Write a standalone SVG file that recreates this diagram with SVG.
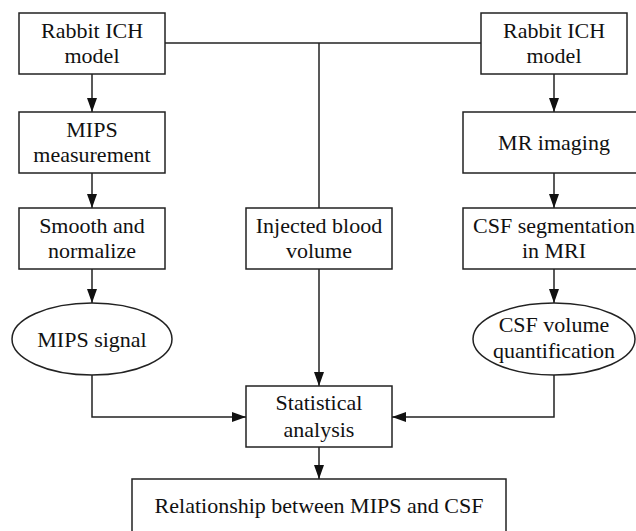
<svg xmlns="http://www.w3.org/2000/svg" width="636" height="531" viewBox="0 0 636 531">
<defs>
<marker id="ah" markerWidth="14" markerHeight="10" refX="14" refY="5" viewBox="0 0 14 10" markerUnits="userSpaceOnUse" orient="auto">
<path d="M0,0 L14,5 L0,10 Z" fill="#111"/>
</marker>
</defs>
<style>
.b{fill:#fff;stroke:#222;stroke-width:1.5}
text{font-family:'Liberation Serif','Times New Roman',Times,serif;font-size:22px;fill:#111;text-anchor:middle}
.c{fill:none;stroke:#222;stroke-width:1.5}
.a{marker-end:url(#ah)}
</style>
<rect width="636" height="531" fill="#fff"/>
<g id="connectors">
<line class="c" x1="165" y1="43" x2="481" y2="43"/>
<line class="c" x1="319" y1="43" x2="319" y2="208"/>
<line class="c a" x1="319" y1="269" x2="319" y2="386"/>
<line class="c a" x1="92" y1="74" x2="92" y2="112"/>
<line class="c a" x1="92" y1="173" x2="92" y2="208"/>
<line class="c a" x1="92" y1="269" x2="92" y2="303"/>
<polyline class="c a" points="92,375 92,417 246,417"/>
<line class="c a" x1="554" y1="74" x2="554" y2="112"/>
<line class="c a" x1="554" y1="173" x2="554" y2="208"/>
<line class="c a" x1="554" y1="269" x2="554" y2="303"/>
<polyline class="c a" points="554,375 554,417 392,417"/>
<line class="c a" x1="319" y1="447" x2="319" y2="479"/>
</g>
<g id="rabbitL"><rect class="b" x="19" y="13" width="146" height="61"/><text x="92" y="38">Rabbit ICH</text><text x="92" y="63">model</text></g>
<g id="mips"><rect class="b" x="19" y="112" width="146" height="61"/><text x="92" y="137">MIPS</text><text x="92" y="162">measurement</text></g>
<g id="smooth"><rect class="b" x="19" y="208" width="146" height="61"/><text x="92" y="233">Smooth and</text><text x="92" y="258">normalize</text></g>
<g id="mipssignal"><ellipse class="b" cx="92" cy="339" rx="80" ry="36"/><text x="92" y="347">MIPS signal</text></g>
<g id="injected"><rect class="b" x="246" y="208" width="146" height="61"/><text x="319" y="233">Injected blood</text><text x="319" y="258">volume</text></g>
<g id="rabbitR"><rect class="b" x="481" y="13" width="146" height="61"/><text x="554" y="38">Rabbit ICH</text><text x="554" y="63">model</text></g>
<g id="mr"><rect class="b" x="463" y="112" width="182" height="61"/><text x="554" y="150">MR imaging</text></g>
<g id="csfseg"><rect class="b" x="463" y="208" width="182" height="61"/><text x="554" y="233">CSF segmentation</text><text x="554" y="258">in MRI</text></g>
<g id="csfvol"><ellipse class="b" cx="554" cy="339" rx="81" ry="36"/><text x="554" y="332">CSF volume</text><text x="554" y="358">quantification</text></g>
<g id="stat"><rect class="b" x="246" y="386" width="146" height="61"/><text x="319" y="410">Statistical</text><text x="319" y="437">analysis</text></g>
<g id="rel"><rect class="b" x="132" y="479" width="374" height="61"/><text x="319" y="513">Relationship between MIPS and CSF</text></g>
</svg>
